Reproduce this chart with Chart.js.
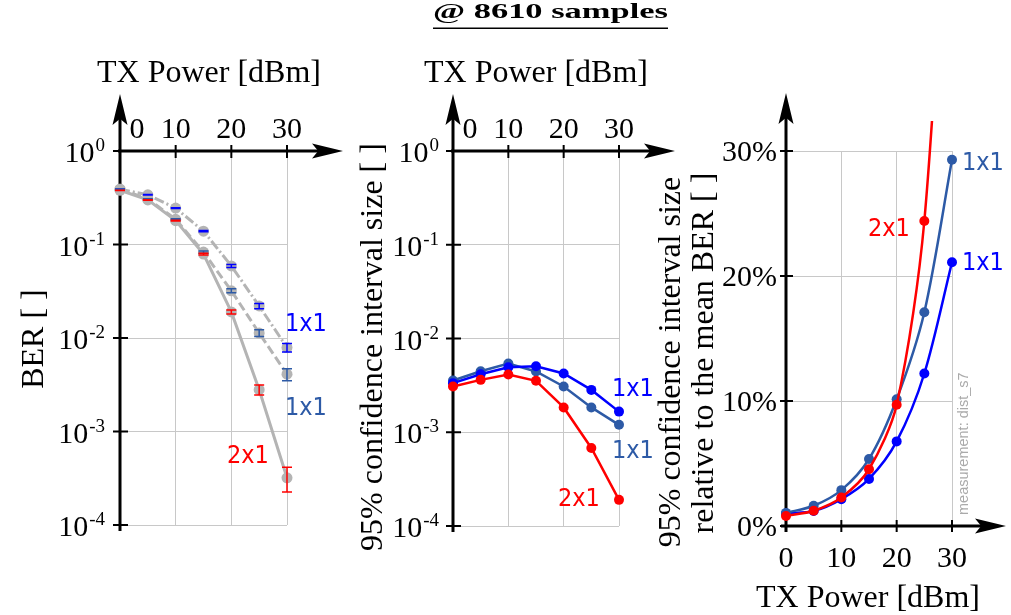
<!DOCTYPE html>
<html lang="en">
<head>
<meta charset="UTF-8">
<title>BER @ 8610 samples</title>
<script src="https://cdn.jsdelivr.net/npm/chart.js"></script>
<style>
  body { margin: 0; background: #fff; overflow: hidden; }
  canvas { position: absolute; left: 0; top: 0; }
</style>
</head>
<body>
<canvas id="berChart" width="1011" height="615"></canvas>
<canvas id="ciChart" width="1011" height="615"></canvas>
<canvas id="relChart" width="1011" height="615"></canvas>
<script>
// TX power steps [dBm]
const txPower = [0, 5, 10, 15, 20, 25, 30];
const xTicks = [0, 10, 20, 30];
const logTicks = [1, 0.1, 0.01, 0.001, 0.0001];
const pctTicks = [0, 10, 20, 30];

// mean BER
const berBlue  = [0.39, 0.34, 0.245, 0.139, 0.059, 0.022, 0.0079];
const berSteel = [0.39, 0.307, 0.186, 0.083, 0.032, 0.0113, 0.0041];
const berRed   = [0.38, 0.30, 0.18, 0.079, 0.019, 0.0028, 0.00032];

// 95% confidence interval size
const ciBlue  = [0.00334, 0.00416, 0.00494, 0.00506, 0.00423, 0.00283, 0.00166];
const ciSteel = [0.00356, 0.00448, 0.0054, 0.00445, 0.00308, 0.00184, 0.0012];
const ciRed   = [0.00307, 0.00362, 0.00413, 0.00354, 0.00184, 0.00068, 0.00019];

// CI size relative to mean BER [%]
const relBlue  = [1.0, 1.2, 2.15, 3.77, 6.77, 12.2, 21.1];
const relSteel = [1.05, 1.62, 2.87, 5.36, 10.14, 17.1, 29.3];
const relRed   = [0.8, 1.22, 2.28, 4.54, 9.7, 24.4, 59];

const BLUE = 'rgb(0,0,255)';
const STEEL = '#2d5aa6';
const RED = 'rgb(255,0,0)';
const GRAY = '#b4b4b4';
const GRID = '#c8c8c8';
const SERIF = '"Liberation Serif", "Times New Roman", serif';
const SANS = '"DejaVu Sans Condensed", "DejaVu Sans", sans-serif';

function pts(ys) { return txPower.map((x, i) => ({ x: x, y: ys[i] })); }

function xScale(pos) {
  return {
    type: 'linear', min: 0, max: 30, position: pos,
    grid: { color: GRID, lineWidth: 1, drawTicks: false },
    border: { display: false },
    ticks: { display: false },
    afterBuildTicks: s => { s.ticks = xTicks.map(v => ({ value: v })); }
  };
}
function logScale() {
  return {
    type: 'logarithmic', min: 0.0001, max: 1,
    grid: { color: GRID, lineWidth: 1, drawTicks: false },
    border: { display: false },
    ticks: { display: false },
    afterBuildTicks: s => { s.ticks = logTicks.map(v => ({ value: v })); }
  };
}

function arrow(ctx, x1, y1, x2, y2) {
  const a = Math.atan2(y2 - y1, x2 - x1), L = 31, W = 7.5;
  ctx.save();
  ctx.strokeStyle = '#000'; ctx.fillStyle = '#000'; ctx.lineWidth = 3;
  ctx.beginPath(); ctx.moveTo(x1, y1);
  ctx.lineTo(x2 - 20 * Math.cos(a), y2 - 20 * Math.sin(a)); ctx.stroke();
  const bx = x2 - L * Math.cos(a), by = y2 - L * Math.sin(a);
  ctx.beginPath(); ctx.moveTo(x2, y2);
  ctx.lineTo(bx + W * Math.sin(a), by - W * Math.cos(a));
  ctx.lineTo(x2 - L * 0.8 * Math.cos(a), y2 - L * 0.8 * Math.sin(a));
  ctx.lineTo(bx - W * Math.sin(a), by + W * Math.cos(a));
  ctx.closePath(); ctx.fill();
  ctx.restore();
}

function tickMark(ctx, x1, y1, x2, y2) {
  ctx.save(); ctx.strokeStyle = '#000'; ctx.lineWidth = 2;
  ctx.beginPath(); ctx.moveTo(x1, y1); ctx.lineTo(x2, y2); ctx.stroke();
  ctx.restore();
}

function text(ctx, s, x, y, font, color, align) {
  ctx.save(); ctx.font = font; ctx.fillStyle = color || '#000';
  ctx.textAlign = align || 'center'; ctx.textBaseline = 'alphabetic';
  ctx.fillText(s, x, y); ctx.restore();
}

function vText(ctx, s, x, y, font, color) {
  ctx.save(); ctx.translate(x, y); ctx.rotate(-Math.PI / 2);
  ctx.font = font; ctx.fillStyle = color || '#000';
  ctx.textAlign = 'center'; ctx.textBaseline = 'alphabetic';
  ctx.fillText(s, 0, 0); ctx.restore();
}

function powLabel(ctx, exp, right, y) {
  ctx.save();
  ctx.font = '19px ' + SERIF;
  const we = ctx.measureText(exp).width;
  ctx.textBaseline = 'alphabetic'; ctx.textAlign = 'left'; ctx.fillStyle = '#000';
  ctx.fillText(exp, right - we, y);
  ctx.font = '30px ' + SERIF;
  const wb = ctx.measureText('10').width;
  ctx.fillText('10', right - we - wb - 1, y + 11);
  ctx.restore();
}

// axes of the two log panels (x on top, y downwards)
function logAxes(chart) {
  const ctx = chart.ctx, xs = chart.scales.x, ys = chart.scales.y;
  const x0 = xs.getPixelForValue(0), yTop = ys.getPixelForValue(1), yBot = ys.getPixelForValue(0.0001);
  arrow(ctx, x0, yBot + 6, x0, yTop - 57);
  arrow(ctx, x0 - 2, yTop, xs.getPixelForValue(30) + 56, yTop);
  logTicks.forEach(v => {
    const y = ys.getPixelForValue(v);
    tickMark(ctx, x0 - 7, y, x0 + 8, y);
  });
  xTicks.slice(1).forEach(v => {
    const x = xs.getPixelForValue(v);
    tickMark(ctx, x, yTop - 6, x, yTop + 7);
  });
}
function logLabels(chart, labelRight, title) {
  const ctx = chart.ctx, xs = chart.scales.x, ys = chart.scales.y;
  const yTop = ys.getPixelForValue(1);
  logTicks.forEach((v, i) => powLabel(ctx, i === 0 ? '0' : '-' + i, labelRight, ys.getPixelForValue(v)));
  xTicks.forEach(v => {
    const x = xs.getPixelForValue(v) + (v === 0 ? 17 : 0);
    text(ctx, String(v), x, yTop - 13, '30px ' + SERIF);
  });
  text(ctx, 'TX Power [dBm]', title, 82, '32px ' + SERIF);
}

const errorBars = {
  id: 'errorBars',
  afterDatasetsDraw(chart) {
    const ctx = chart.ctx, xs = chart.scales.x, ys = chart.scales.y;
    chart.data.datasets.forEach(ds => {
      ctx.save(); ctx.strokeStyle = ds.barColor; ctx.lineWidth = 1.5;
      ds.data.forEach((p, i) => {
        const x = xs.getPixelForValue(p.x);
        const yHi = ys.getPixelForValue(p.y + ds.ci[i] / 2);
        const yLo = ys.getPixelForValue(p.y - ds.ci[i] / 2);
        ctx.beginPath();
        ctx.moveTo(x, yHi); ctx.lineTo(x, yLo);
        ctx.moveTo(x - 5, yHi); ctx.lineTo(x + 5, yHi);
        ctx.moveTo(x - 5, yLo); ctx.lineTo(x + 5, yLo);
        ctx.stroke();
      });
      ctx.restore();
    });
  }
};

const common = {
  responsive: false, animation: false, devicePixelRatio: 1, events: [],
  plugins: { legend: { display: false }, tooltip: { enabled: false }, title: { display: false } }
};

// ---- left: BER ----
new Chart(document.getElementById('berChart'), {
  type: 'line',
  data: {
    datasets: [
      { data: pts(berBlue), ci: ciBlue, barColor: BLUE, borderDash: [10, 3, 2, 3] },
      { data: pts(berSteel), ci: ciSteel, barColor: STEEL, borderDash: [9, 4] },
      { data: pts(berRed), ci: ciRed, barColor: RED, borderDash: [] }
    ].map(d => Object.assign(d, {
      borderColor: GRAY, backgroundColor: GRAY, borderWidth: 3,
      pointRadius: 5.5, pointBorderWidth: 0, pointBackgroundColor: GRAY, tension: 0, clip: 8
    }))
  },
  options: Object.assign({}, common, {
    layout: { padding: { left: 120, top: 151, right: 724, bottom: 90 } },
    scales: { x: xScale('top'), y: logScale() }
  }),
  plugins: [errorBars, {
    id: 'berDeco',
    beforeDatasetsDraw(chart) { logAxes(chart); },
    afterDraw(chart) {
      const ctx = chart.ctx;
      logLabels(chart, 105, 209);
      vText(ctx, 'BER [ ]', 43, 339, '32px ' + SERIF);
      text(ctx, '1x1', 285, 331, '25px ' + SANS, BLUE, 'left');
      text(ctx, '1x1', 285, 415, '25px ' + SANS, STEEL, 'left');
      text(ctx, '2x1', 227, 463, '25px ' + SANS, RED, 'left');
    }
  }]
});

// ---- middle: CI size ----
new Chart(document.getElementById('ciChart'), {
  type: 'line',
  data: {
    datasets: [
      { data: pts(ciRed), borderColor: RED, backgroundColor: RED },
      { data: pts(ciBlue), borderColor: BLUE, backgroundColor: BLUE },
      { data: pts(ciSteel), borderColor: STEEL, backgroundColor: STEEL }
    ].map(d => Object.assign(d, { borderWidth: 2.5, pointRadius: 5, pointBorderWidth: 0, tension: 0, clip: 8 }))
  },
  options: Object.assign({}, common, {
    layout: { padding: { left: 453, top: 151, right: 392, bottom: 89 } },
    scales: { x: xScale('top'), y: logScale() }
  }),
  plugins: [{
    id: 'ciDeco',
    beforeDatasetsDraw(chart) { logAxes(chart); },
    afterDraw(chart) {
      const ctx = chart.ctx;
      logLabels(chart, 439, 536);
      vText(ctx, '95% confidence interval size [ ]', 382, 347, '32px ' + SERIF);
      text(ctx, '1x1', 612, 396, '25px ' + SANS, BLUE, 'left');
      text(ctx, '1x1', 612, 458, '25px ' + SANS, STEEL, 'left');
      text(ctx, '2x1', 558, 506, '25px ' + SANS, RED, 'left');
      // title
      ctx.save();
      ctx.font = 'bold 22px ' + SERIF;
      const t = '@ 8610 samples';
      const w = ctx.measureText(t).width;
      ctx.translate(433, 18); ctx.scale(235 / w, 1);
      ctx.fillStyle = '#000'; ctx.textBaseline = 'alphabetic'; ctx.textAlign = 'left';
      ctx.fillText(t, 0, 0);
      ctx.restore();
      ctx.fillRect(433, 27.5, 235, 1.5);
    }
  }]
});

// ---- right: relative CI size ----
new Chart(document.getElementById('relChart'), {
  type: 'line',
  data: {
    datasets: [
      { data: pts(relRed), borderColor: RED, backgroundColor: RED },
      { data: pts(relSteel), borderColor: STEEL, backgroundColor: STEEL },
      { data: pts(relBlue), borderColor: BLUE, backgroundColor: BLUE }
    ].map(d => Object.assign(d, {
      borderWidth: 2.5, pointRadius: 5, pointBorderWidth: 0, tension: 0.3,
      clip: { left: 8, top: 30, right: 8, bottom: 8 }
    }))
  },
  options: Object.assign({}, common, {
    layout: { padding: { left: 786, top: 151, right: 59, bottom: 89 } },
    scales: {
      x: xScale('bottom'),
      y: {
        type: 'linear', min: 0, max: 30,
        grid: { color: GRID, lineWidth: 1, drawTicks: false },
        border: { display: false }, ticks: { display: false },
        afterBuildTicks: s => { s.ticks = pctTicks.map(v => ({ value: v })); }
      }
    }
  }),
  plugins: [{
    id: 'relDeco',
    beforeDatasetsDraw(chart) {
      const ctx = chart.ctx, xs = chart.scales.x, ys = chart.scales.y;
      const x0 = xs.getPixelForValue(0), y0 = ys.getPixelForValue(0);
      arrow(ctx, x0, y0 + 6, x0, ys.getPixelForValue(30) - 58);
      arrow(ctx, x0 - 5, y0, xs.getPixelForValue(30) + 54, y0);
      pctTicks.forEach(v => { const y = ys.getPixelForValue(v); tickMark(ctx, x0 - 6, y, x0 + 7, y); });
      xTicks.forEach(v => { const x = xs.getPixelForValue(v); tickMark(ctx, x, y0 - 6, x, y0 + 6); });
    },
    afterDraw(chart) {
      const ctx = chart.ctx, xs = chart.scales.x, ys = chart.scales.y;
      const y0 = ys.getPixelForValue(0);
      pctTicks.forEach(v => text(ctx, v + '%', 777, ys.getPixelForValue(v) + 10, '30px ' + SERIF, '#000', 'right'));
      xTicks.forEach(v => text(ctx, String(v), xs.getPixelForValue(v), y0 + 41, '30px ' + SERIF));
      text(ctx, 'TX Power [dBm]', 868, 607, '32px ' + SERIF);
      vText(ctx, '95% confidence interval size', 680, 362, '32px ' + SERIF);
      vText(ctx, 'relative to the mean BER [ ]', 713, 353, '32px ' + SERIF);
      text(ctx, '1x1', 962, 170, '25px ' + SANS, STEEL, 'left');
      text(ctx, '2x1', 868, 236, '25px ' + SANS, RED, 'left');
      text(ctx, '1x1', 962, 270, '25px ' + SANS, BLUE, 'left');
      ctx.save(); ctx.translate(968, 515); ctx.rotate(-Math.PI / 2);
      ctx.font = '14.5px "Liberation Sans", Arial, sans-serif'; ctx.fillStyle = '#aaaaaa';
      ctx.textAlign = 'left'; ctx.textBaseline = 'alphabetic';
      ctx.fillText('measurement: dist_s7', 0, 0);
      ctx.restore();
    }
  }]
});
</script>
</body>
</html>
